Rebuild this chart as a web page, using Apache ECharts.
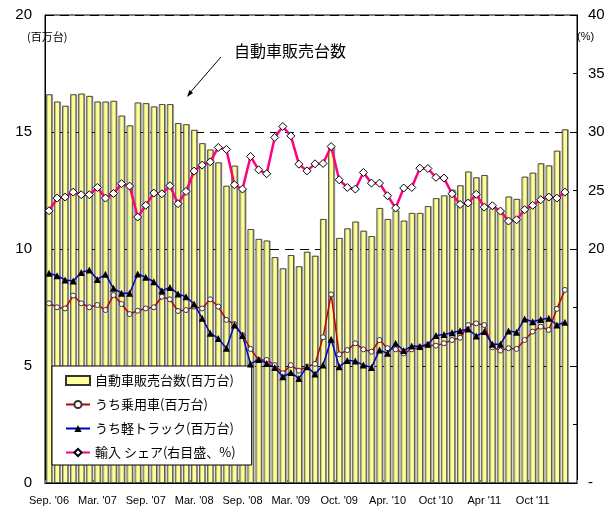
<!DOCTYPE html>
<html>
<head>
<meta charset="utf-8">
<script src="https://cdn.jsdelivr.net/npm/echarts@6/dist/echarts.min.js"></script>
<style>
  html, body { margin: 0; padding: 0; background: #fff; }
  #chart { width: 613px; height: 512px; }
</style>
</head>
<body>
<div id="chart"></div>
<script>
// 月次 (2006年9月〜2012年2月)
const months = [
  '2006-09','2006-10','2006-11','2006-12','2007-01','2007-02','2007-03','2007-04','2007-05','2007-06','2007-07','2007-08',
  '2007-09','2007-10','2007-11','2007-12','2008-01','2008-02','2008-03','2008-04','2008-05','2008-06','2008-07','2008-08',
  '2008-09','2008-10','2008-11','2008-12','2009-01','2009-02','2009-03','2009-04','2009-05','2009-06','2009-07','2009-08',
  '2009-09','2009-10','2009-11','2009-12','2010-01','2010-02','2010-03','2010-04','2010-05','2010-06','2010-07','2010-08',
  '2010-09','2010-10','2010-11','2010-12','2011-01','2011-02','2011-03','2011-04','2011-05','2011-06','2011-07','2011-08',
  '2011-09','2011-10','2011-11','2011-12','2012-01','2012-02'
];
const tickLabels = ["Sep. '06", "Mar. '07", "Sep. '07", "Mar. '08", "Sep. '08", "Mar. '09",
                    "Oct. '09", "Apr. '10", "Oct '10", "Apr '11", "Oct '11"];

// 自動車販売台数(百万台)
const totalSales = [
  16.61, 16.30, 16.12, 16.61, 16.64, 16.54, 16.30, 16.30, 16.33, 15.70,
  15.28, 16.26, 16.23, 16.09, 16.19, 16.19, 15.38, 15.33, 15.09, 14.52,
  14.25, 13.70, 12.70, 13.56, 12.56, 10.85, 10.43, 10.36, 9.65, 9.17,
  9.74, 9.26, 9.88, 9.71, 11.28, 14.38, 10.47, 10.88, 11.17, 10.78,
  10.55, 11.75, 11.28, 11.65, 11.21, 11.54, 11.54, 11.83, 12.17, 12.29,
  12.53, 12.72, 13.31, 13.06, 13.16, 11.74, 11.67, 12.24, 12.14, 13.09,
  13.26, 13.66, 13.57, 14.20, 15.11, null
];
// うち乗用車(百万台)
const passengerCars = [
  7.68, 7.51, 7.46, 8.01, 7.68, 7.51, 7.61, 7.39, 8.03, 7.65,
  7.22, 7.36, 7.46, 7.51, 7.96, 7.85, 7.35, 7.39, 7.54, 7.46,
  7.85, 7.54, 6.97, 6.79, 6.32, 5.73, 5.26, 5.26, 5.04, 4.69,
  5.04, 4.80, 4.97, 5.09, 6.23, 8.06, 5.50, 5.68, 5.97, 5.71,
  5.61, 6.11, 5.76, 5.71, 5.54, 5.71, 5.80, 5.90, 5.87, 5.97,
  6.11, 6.21, 6.75, 6.82, 6.75, 5.80, 5.66, 5.76, 5.73, 6.11,
  6.47, 6.68, 6.54, 7.44, 8.25, null
];
// うち軽トラック(百万台)
const lightTrucks = [
  8.96, 8.86, 8.68, 8.63, 9.00, 9.10, 8.70, 8.92, 8.32, 8.11,
  8.11, 8.93, 8.79, 8.60, 8.22, 8.36, 8.08, 7.96, 7.65, 7.04,
  6.40, 6.18, 5.76, 6.75, 6.30, 5.09, 5.28, 5.11, 4.94, 4.54,
  4.72, 4.47, 4.97, 4.66, 5.04, 6.14, 4.97, 5.23, 5.21, 5.04,
  4.94, 5.68, 5.54, 5.97, 5.66, 5.85, 5.83, 5.93, 6.30, 6.35,
  6.42, 6.51, 6.58, 6.28, 6.47, 5.93, 5.93, 6.50, 6.44, 7.01,
  6.89, 6.99, 7.04, 6.75, 6.87, null
];
// 輸入シェア(右目盛、%)
const importShare = [
  23.27, 24.35, 24.44, 24.86, 24.64, 24.64, 25.26, 24.35, 24.75, 25.58,
  25.38, 22.73, 23.73, 24.78, 24.72, 25.41, 23.87, 24.92, 26.66, 27.17,
  27.45, 28.68, 28.51, 25.49, 25.12, 27.91, 26.77, 26.43, 29.53, 30.47,
  29.67, 27.25, 26.68, 27.28, 27.31, 28.76, 25.92, 25.26, 25.12, 26.54,
  25.63, 25.63, 24.55, 23.50, 25.21, 25.26, 26.91, 26.88, 26.12, 26.06,
  24.72, 23.81, 23.93, 24.67, 23.58, 23.70, 23.24, 22.39, 22.50, 23.36,
  23.73, 24.21, 24.44, 24.35, 24.86, null
];

const numFont = '"Liberation Sans", Arial, sans-serif';
const jpFont = '"Noto Sans CJK JP", sans-serif';

const chart = echarts.init(document.getElementById('chart'));
chart.setOption({
  animation: false,
  backgroundColor: '#fff',
  grid: {
    left: 45, right: 36, top: 15, bottom: 29,
    outerBoundsMode: 'none',
    show: true, borderColor: '#000', borderWidth: 1
  },
  legend: {
    orient: 'vertical',
    left: 52, top: 366,
    padding: [8, 16, 6, 13],
    itemGap: 11,
    itemWidth: 24, itemHeight: 9,
    backgroundColor: '#fff',
    borderColor: '#000', borderWidth: 1,
    textStyle: { fontFamily: jpFont, fontSize: 13, color: '#000' },
    data: [
      { name: '自動車販売台数(百万台)', icon: 'rect' },
      { name: 'うち乗用車(百万台)' },
      { name: 'うち軽トラック(百万台)' },
      { name: '輸入 シェア(右目盛、%)' }
    ]
  },
  xAxis: {
    type: 'category',
    data: months,
    axisLine: { lineStyle: { color: '#000', width: 1 } },
    axisTick: { show: true, inside: true, interval: 5, length: 3, lineStyle: { color: '#888' } },
    axisLabel: {
      interval: 5, margin: 12,
      fontFamily: numFont, fontSize: 11, color: '#000',
      formatter: (v, i) => tickLabels[i / 6] || ''
    },
    splitLine: { show: false }
  },
  yAxis: [
    {
      type: 'value', min: 0, max: 20, interval: 5,
      axisLine: { show: true, lineStyle: { color: '#000' } },
      axisTick: { show: true, inside: true, length: 4, lineStyle: { color: '#000' } },
      axisLabel: { fontFamily: numFont, fontSize: 15, color: '#000', margin: 13 },
      splitLine: { show: true, lineStyle: { color: '#000', type: [9, 6], width: 1 } }
    },
    {
      type: 'value', min: 0, max: 40, interval: 5,
      axisLine: { show: true, lineStyle: { color: '#000' } },
      axisTick: { show: true, inside: true, length: 4, lineStyle: { color: '#000' } },
      axisLabel: {
        fontFamily: numFont, fontSize: 15, color: '#000', margin: 11,
        formatter: v => (v === 0 ? '-' : (v >= 20 ? String(v) : ''))
      },
      splitLine: { show: false }
    }
  ],
  series: [
    {
      name: '自動車販売台数(百万台)',
      type: 'bar',
      data: totalSales,
      barCategoryGap: '24%',
      itemStyle: {
        color: '#FFFF99', borderColor: '#333', borderWidth: 0.8,
        shadowColor: 'rgba(0,0,0,0.3)', shadowOffsetX: 1, shadowOffsetY: 0, shadowBlur: 0
      },
      z: 2
    },
    {
      name: 'うち乗用車(百万台)',
      type: 'line',
      data: passengerCars,
      showAllSymbol: true,
      symbol: 'circle', symbolSize: 5,
      lineStyle: { color: '#C00000', width: 1.5 },
      itemStyle: { color: '#fff', borderColor: '#333', borderWidth: 1 },
      z: 3
    },
    {
      name: 'うち軽トラック(百万台)',
      type: 'line',
      data: lightTrucks,
      showAllSymbol: true,
      symbol: 'triangle', symbolSize: 7,
      lineStyle: { color: '#0000CC', width: 1.5 },
      itemStyle: { color: '#000', borderColor: '#000', borderWidth: 0 },
      z: 4
    },
    {
      name: '輸入 シェア(右目盛、%)',
      type: 'line',
      yAxisIndex: 1,
      data: importShare,
      showAllSymbol: true,
      symbol: 'diamond', symbolSize: 8,
      lineStyle: { color: '#FF0080', width: 2.5 },
      itemStyle: { color: '#fff', borderColor: '#000', borderWidth: 1 },
      z: 5
    }
  ],
  graphic: [
    {
      type: 'text', left: 27, top: 31,
      style: { text: '(百万台)', font: '11px "Noto Sans CJK JP", sans-serif', fill: '#000' }
    },
    {
      type: 'text', left: 577, top: 31,
      style: { text: '(%)', font: '11px "Liberation Sans", Arial, sans-serif', fill: '#000' }
    },
    {
      type: 'text', left: 234, top: 43,
      style: { text: '自動車販売台数', font: '16px "Noto Sans CJK JP", sans-serif', fill: '#000' }
    },
    {
      type: 'line',
      shape: { x1: 221, y1: 57, x2: 188, y2: 95 },
      style: { stroke: '#000', lineWidth: 1 }
    },
    {
      type: 'polygon',
      shape: { points: [[187, 97], [189.5, 90], [193, 93]] },
      style: { fill: '#000' }
    }
  ]
});
</script>
</body>
</html>
